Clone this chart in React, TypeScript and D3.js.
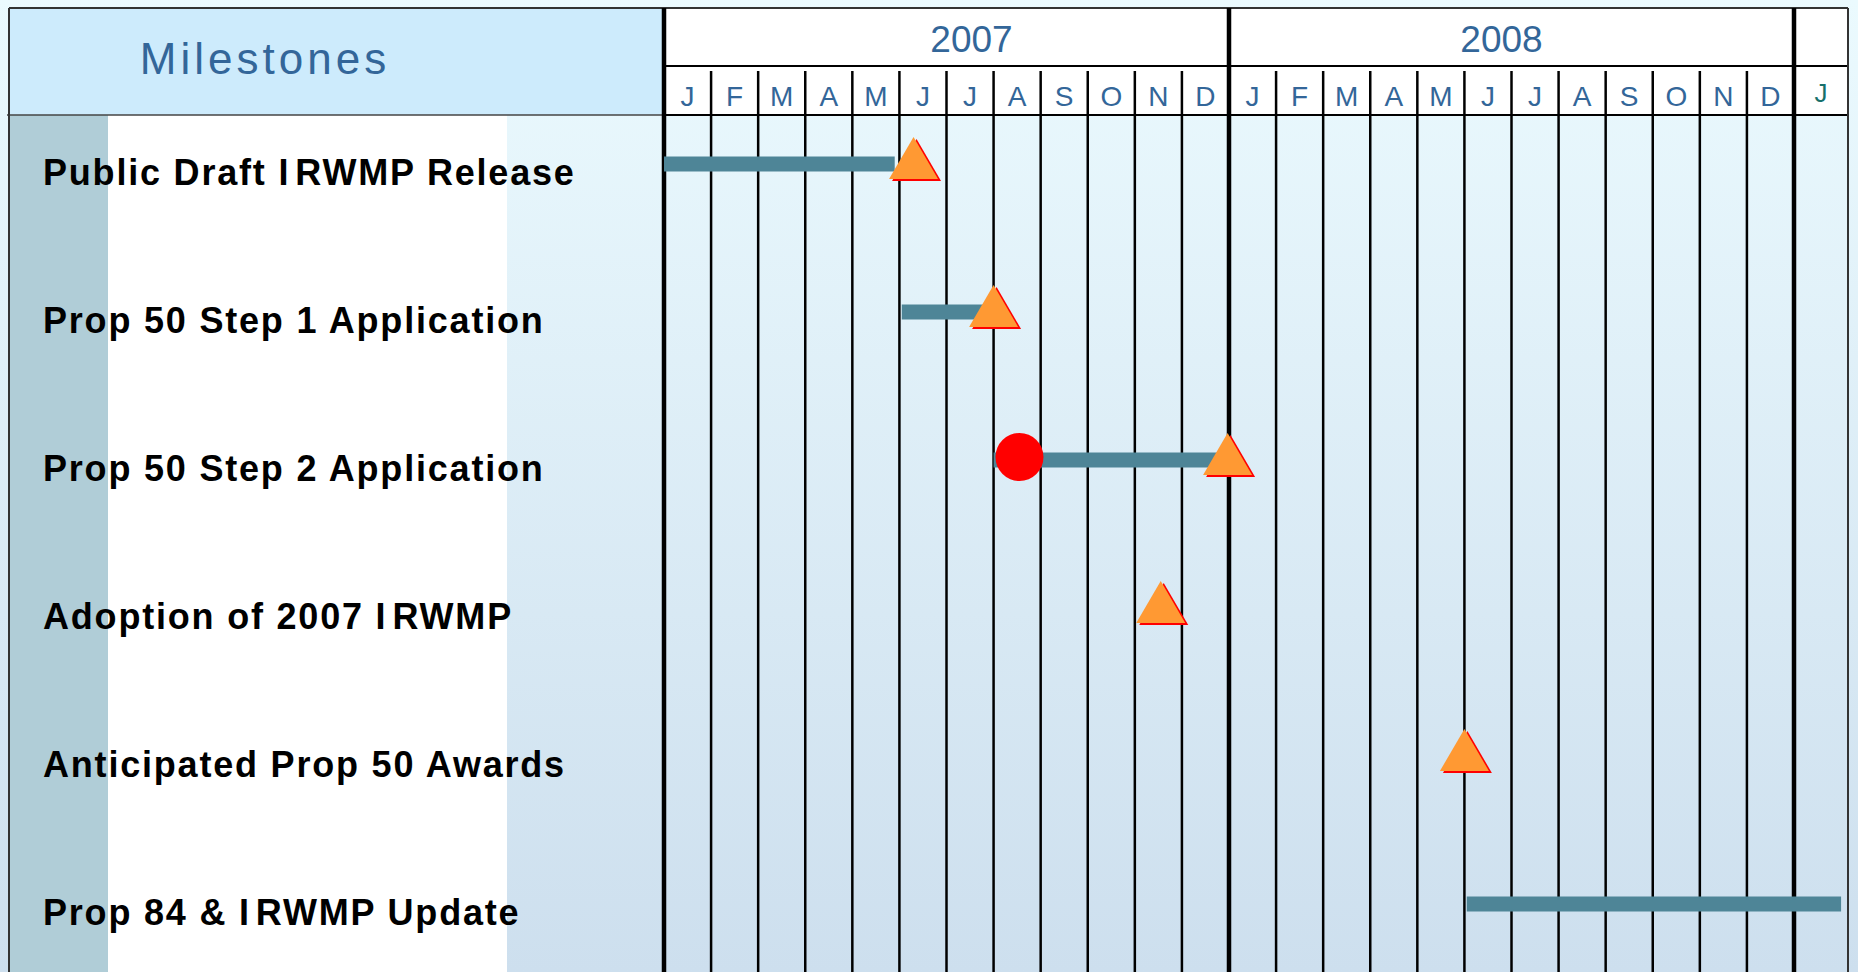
import React from "react";
import * as d3 from "d3";

// header ticks
const years = ["2007", "2008"];
const monthLabels = [
  "J", "F", "M", "A", "M", "J", "J", "A", "S", "O", "N", "D",
  "J", "F", "M", "A", "M", "J", "J", "A", "S", "O", "N", "D",
  "J",
];

// rows
const milestones = [
  "Public Draft IRWMP Release",
  "Prop 50 Step 1 Application",
  "Prop 50 Step 2 Application",
  "Adoption of 2007 IRWMP",
  "Anticipated Prop 50 Awards",
  "Prop 84 & IRWMP Update",
];
// months counted from Jan 2007 (0 = start of Jan 2007)
const barStart = [0, 5.05, 7.0, null, null, 17.05];
const barEnd = [4.9, 6.9, 11.8, null, null, 25.0];
const milestoneAt = [5.3, 7.0, 11.97, 10.55, 17.0, null];
const kickoffAt = [null, null, 7.55, null, null, null];

const W = 1858;
const H = 972;
const left = 9;
const top = 8;
const panelRight = 663;
const right = 1848;
const yearBottom = 66;
const headBottom = 115;

export default function App() {
  const x = d3.scaleLinear().domain([0, 24]).range([664, 1794]);
  const y = d3.scalePoint<string>().domain(milestones).range([172, 912]);

  const tri = (cx: number, cy: number) => {
    const w = 49, h = 42;
    return `M${cx},${cy - h / 2}L${cx + w / 2},${cy + h / 2}L${cx - w / 2},${cy + h / 2}Z`;
  };

  const bounds = d3.range(0, monthLabels.length); // month boundaries
  const yearEdges = [0, 12, 24];

  return (
    <>
      <style>{`body{margin:0}`}</style>
      <svg width={W} height={H} style={{ display: "block" }}>
        <defs>
          <linearGradient id="bg" x1="0" y1="0" x2="0" y2="1">
            <stop offset="0" stopColor="#ebfafe" />
            <stop offset="1" stopColor="#cddfee" />
          </linearGradient>
        </defs>
        <rect width={W} height={H} fill="url(#bg)" />

        {/* label panel */}
        <rect x={left} y={headBottom} width={108 - left} height={H} fill="#b0cdd7" />
        <rect x={108} y={headBottom} width={507 - 108} height={H} fill="#ffffff" />
        <rect x={left} y={top} width={panelRight - left} height={headBottom - top} fill="#cdebfc" />
        <text
          x={265}
          y={74}
          textAnchor="middle"
          fill="#336699"
          fontFamily="'Liberation Sans', Arial, sans-serif"
          fontSize={44}
          letterSpacing={4}
        >
          Milestones
        </text>

        {/* timeline header */}
        <rect x={panelRight} y={top} width={right - panelRight} height={headBottom - top} fill="#ffffff" />
        {years.map((yr, i) => (
          <text
            key={yr}
            x={(x(i * 12) + x(i * 12 + 12)) / 2 + (i === 0 ? 25 : -10)}
            y={52}
            textAnchor="middle"
            fill="#336699"
            fontFamily="'Liberation Sans', Arial, sans-serif"
            fontSize={37}
          >
            {yr}
          </text>
        ))}
        {monthLabels.map((m, i) => (
          <text
            key={i}
            x={i === 24 ? (x(24) + right) / 2 : (x(i) + x(i + 1)) / 2}
            y={i === 24 ? 102 : 106}
            textAnchor="middle"
            fill={i === 24 ? "#17706b" : "#336699"}
            fontFamily="'Liberation Sans', Arial, sans-serif"
            fontSize={i === 24 ? 26 : 28}
          >
            {m}
          </text>
        ))}

        {/* horizontal rules */}
        <line x1={left} x2={right} y1={top} y2={top} stroke="#333" strokeWidth={2} />
        <line x1={panelRight} x2={right} y1={yearBottom} y2={yearBottom} stroke="#000" strokeWidth={2} />
        <line x1={left - 2} x2={panelRight} y1={headBottom} y2={headBottom} stroke="#444" strokeWidth={1.5} />
        <line x1={panelRight} x2={right} y1={headBottom} y2={headBottom} stroke="#000" strokeWidth={2} />

        {/* grid */}
        {bounds
          .filter((i) => !yearEdges.includes(i))
          .map((i) => (
            <line key={i} x1={x(i)} x2={x(i)} y1={71} y2={H} stroke="#000" strokeWidth={2.5} />
          ))}
        {yearEdges.map((i) => (
          <line key={"y" + i} x1={x(i)} x2={x(i)} y1={top} y2={H} stroke="#000" strokeWidth={4.5} />
        ))}
        <line x1={left} x2={left} y1={top} y2={H} stroke="#333" strokeWidth={2} />
        <line x1={right} x2={right} y1={top} y2={H} stroke="#333" strokeWidth={2} />

        {/* row labels; the original shows a small gap after the "I" of IRWMP */}
        {milestones.map((m) => {
          const parts = m.split(/(?<=\bI)(?=RWMP)/);
          return (
            <text
              key={m}
              x={43}
              y={(y(m) ?? 0) + 13}
              fill="#000"
              fontFamily="'Liberation Sans', Arial, sans-serif"
              fontWeight="bold"
              fontSize={36}
              letterSpacing={1.8}
            >
              {parts.map((p, j) => (
                <tspan key={j} dx={j > 0 ? 5 : 0}>
                  {p}
                </tspan>
              ))}
            </text>
          );
        })}

        {/* bars and milestones */}
        {milestones.map((m, i) => {
          const cy = (y(m) ?? 0) - 8;
          const s = barStart[i];
          const e = barEnd[i];
          const ms = milestoneAt[i];
          const k = kickoffAt[i];
          return (
            <g key={"r" + i}>
              {s != null && e != null && (
                <rect x={x(s)} y={cy - 7.5} width={x(e) - x(s)} height={15} fill="#4e8597" />
              )}
              {k != null && <circle cx={x(k)} cy={cy - 3} r={24} fill="#ff0000" />}
              {ms != null && (
                <>
                  <path d={tri(x(ms) + 3, cy - 4)} fill="#ff0000" />
                  <path d={tri(x(ms), cy - 6)} fill="#ff9933" />
                </>
              )}
            </g>
          );
        })}
      </svg>
    </>
  );
}
